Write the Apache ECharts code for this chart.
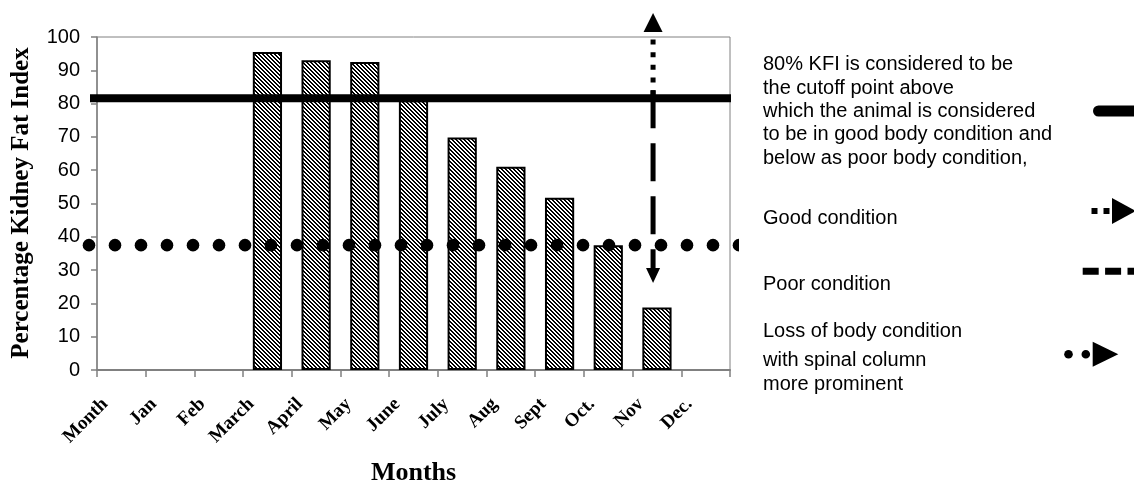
<!DOCTYPE html>
<html>
<head>
<meta charset="utf-8">
<script src="https://cdn.jsdelivr.net/npm/echarts@6/dist/echarts.min.js"></script>
<style>
  html, body { margin: 0; padding: 0; background: #fff; }
  #chart { width: 1134px; height: 485px; }
</style>
</head>
<body>
<div id="chart"></div>
<script>
// Monthly kidney fat index (%)
const months = ['Month', 'Jan', 'Feb', 'March', 'April', 'May', 'June', 'July', 'Aug', 'Sept', 'Oct.', 'Nov', 'Dec.'];
const kfi = [null, null, null, 95.5, 93, 92.5, 81, 69.8, 61, 51.7, 37.5, 18.8, null];

// Value axis range
const yMin = 0;
const yMax = 100;
const yStep = 10;

// Reference levels and arrow annotation (in axis units)
const cutoffLevel = 81.6;
const lossLevel = 37.5;
const arrowMonth = 'Nov';
const goodArrowTip = 107.2;
const poorArrowTip = 26.1;

// Texts
const yTitle = 'Percentage Kidney Fat Index';
const xTitle = 'Months';
const noteLines = [
  '80% KFI is considered to be',
  'the cutoff point above',
  'which the animal is considered',
  'to be in good body condition and',
  'below as poor body condition,'
];
const goodLabel = 'Good condition';
const poorLabel = 'Poor condition';
const lossLines = ['Loss of body condition', 'with spinal column', 'more prominent'];

const SANS = '"Liberation Sans", Arial, sans-serif';
const SERIF = '"Liberation Serif", "Times New Roman", serif';
const GRID = { left: 97, right: 404, top: 37, bottom: 115 };

// Dense diagonal hatch used to fill the bars
function hatchPattern() {
  const c = document.createElement('canvas');
  c.width = 4; c.height = 4;
  const g = c.getContext('2d');
  g.fillStyle = '#fff';
  g.fillRect(0, 0, 4, 4);
  g.fillStyle = '#000';
  for (let y = 0; y < 4; y++) {
    for (let x = 0; x < 4; x++) {
      if ((((x - y) % 4) + 4) % 4 < 2) g.fillRect(x, y, 1, 1);
    }
  }
  return c;
}

const chart = echarts.init(document.getElementById('chart'), null, { renderer: 'canvas' });

chart.setOption({
  animation: false,
  backgroundColor: '#fff',
  grid: {
    left: GRID.left, right: GRID.right, top: GRID.top, bottom: GRID.bottom,
    show: true, borderColor: '#808080', borderWidth: 1
  },
  xAxis: {
    type: 'category',
    data: months,
    boundaryGap: true,
    axisLine: { show: true, lineStyle: { color: '#808080', width: 2 } },
    axisTick: { show: true, interval: 0, length: 7, lineStyle: { color: '#808080', width: 1.5 } },
    axisLabel: {
      interval: 0, rotate: 45, margin: 15, padding: [0, 23, 0, 0],
      color: '#000', fontFamily: SERIF, fontWeight: 'bold', fontSize: 19
    },
    splitLine: { show: false }
  },
  yAxis: {
    type: 'value',
    min: yMin, max: yMax, interval: yStep,
    axisLine: { show: true, lineStyle: { color: '#808080', width: 1.5 } },
    axisTick: { show: true, length: 6, lineStyle: { color: '#808080', width: 1.5 } },
    axisLabel: { margin: 17, color: '#000', fontFamily: SANS, fontSize: 20 },
    splitLine: { show: false }
  },
  series: [{
    type: 'bar',
    data: kfi,
    barWidth: '60%',
    itemStyle: {
      color: { image: hatchPattern(), repeat: 'repeat' },
      borderColor: '#000',
      borderWidth: 2
    }
  }]
});

// Overlay annotations positioned through the axes
function drawAnnotations() {
  const py = v => chart.convertToPixel({ yAxisIndex: 0 }, v);
  const left = GRID.left;
  const right = chart.getWidth() - GRID.right;
  const band = (right - left) / months.length;
  const ax = chart.convertToPixel({ xAxisIndex: 0 }, arrowMonth) - 0.08 * band;

  const cutY = py(cutoffLevel);
  const lossY = py(lossLevel);
  const goodTipY = py(goodArrowTip);
  const poorTipY = py(poorArrowTip);

  const els = [];
  const Z = 20;

  // Titles
  els.push({
    type: 'text', x: 21.5, y: 203, rotation: Math.PI / 2, z: Z,
    style: { text: yTitle, font: 'bold 25px ' + SERIF, fill: '#000', align: 'center', verticalAlign: 'middle' }
  });
  els.push({
    type: 'text', x: (left + right) / 2, y: 473, z: Z,
    style: { text: xTitle, font: 'bold 26px ' + SERIF, fill: '#000', align: 'center', verticalAlign: 'middle' }
  });

  // Round-dot loss line
  const dotR = 6.3;
  const dotStep = 26;
  const xs = [];
  for (let x = left - 8; x <= right + 10; x += dotStep) xs.push(x);
  xs.forEach((x, i) => {
    if (i === xs.length - 1) {
      els.push({ type: 'sector', z: Z, shape: { cx: x, cy: lossY, r: dotR, r0: 0, startAngle: Math.PI / 2, endAngle: 3 * Math.PI / 2, clockwise: true }, style: { fill: '#000' } });
    } else {
      els.push({ type: 'circle', z: Z, shape: { cx: x, cy: lossY, r: dotR }, style: { fill: '#000' } });
    }
  });

  // Good-condition arrow (square dots, pointing up)
  const goodHead = 19;
  els.push({
    type: 'polyline', z: Z,
    shape: { points: [[ax, cutY - 3], [ax, goodTipY + goodHead]] },
    style: { stroke: '#000', lineWidth: 5, lineDash: [5, 7.7], lineCap: 'butt', fill: null }
  });
  els.push({
    type: 'polygon', z: Z,
    shape: { points: [[ax - 9.5, goodTipY + goodHead], [ax + 9.5, goodTipY + goodHead], [ax, goodTipY]] },
    style: { fill: '#000' }
  });

  // Poor-condition arrow (long dashes, pointing down)
  const poorHead = 15;
  els.push({
    type: 'polyline', z: Z,
    shape: { points: [[ax, cutY - 8], [ax, poorTipY - poorHead]] },
    style: { stroke: '#000', lineWidth: 5, lineDash: [38, 15], lineCap: 'butt', fill: null }
  });
  els.push({
    type: 'polygon', z: Z,
    shape: { points: [[ax - 7, poorTipY - poorHead], [ax + 7, poorTipY - poorHead], [ax, poorTipY]] },
    style: { fill: '#000' }
  });

  // Cutoff line
  els.push({
    type: 'polyline', z: Z + 1,
    shape: { points: [[left - 7, cutY], [right + 1, cutY]] },
    style: { stroke: '#000', lineWidth: 8, lineCap: 'butt', fill: null }
  });

  // Key: note text block and labels
  const tx = 763;
  const noteCenters = [64.7, 88, 111.3, 134.7, 158];
  noteLines.forEach((t, i) => {
    els.push({ type: 'text', x: tx, y: noteCenters[i], z: Z, style: { text: t, font: '20px ' + SANS, fill: '#000', align: 'left', verticalAlign: 'middle' } });
  });
  els.push({ type: 'text', x: tx, y: 218, z: Z, style: { text: goodLabel, font: '20px ' + SANS, fill: '#000', align: 'left', verticalAlign: 'middle' } });
  els.push({ type: 'text', x: tx, y: 284.7, z: Z, style: { text: poorLabel, font: '20px ' + SANS, fill: '#000', align: 'left', verticalAlign: 'middle' } });
  const lossCenters = [331.3, 360.7, 384.7];
  lossLines.forEach((t, i) => {
    els.push({ type: 'text', x: tx, y: lossCenters[i], z: Z, style: { text: t, font: '20px ' + SANS, fill: '#000', align: 'left', verticalAlign: 'middle' } });
  });

  // Key: symbols
  els.push({
    type: 'polyline', z: Z,
    shape: { points: [[1098.5, 111], [1145, 111]] },
    style: { stroke: '#000', lineWidth: 11, lineCap: 'round', fill: null }
  });
  els.push({ type: 'rect', z: Z, shape: { x: 1091.5, y: 208, width: 6, height: 6 }, style: { fill: '#000' } });
  els.push({ type: 'rect', z: Z, shape: { x: 1103.5, y: 208, width: 6, height: 6 }, style: { fill: '#000' } });
  els.push({ type: 'polygon', z: Z, shape: { points: [[1112, 198], [1112, 224], [1136, 211]] }, style: { fill: '#000' } });
  els.push({
    type: 'polyline', z: Z,
    shape: { points: [[1082.7, 271.3], [1145, 271.3]] },
    style: { stroke: '#000', lineWidth: 7, lineDash: [16, 6.4], lineCap: 'butt', fill: null }
  });
  els.push({ type: 'circle', z: Z, shape: { cx: 1068.5, cy: 354.2, r: 4.3 }, style: { fill: '#000' } });
  els.push({ type: 'circle', z: Z, shape: { cx: 1085.8, cy: 354.2, r: 4.3 }, style: { fill: '#000' } });
  els.push({ type: 'polygon', z: Z, shape: { points: [[1092.7, 341.7], [1092.7, 366.7], [1118.3, 354.2]] }, style: { fill: '#000' } });

  chart.setOption({ graphic: { elements: els } });
}

drawAnnotations();
</script>
</body>
</html>
